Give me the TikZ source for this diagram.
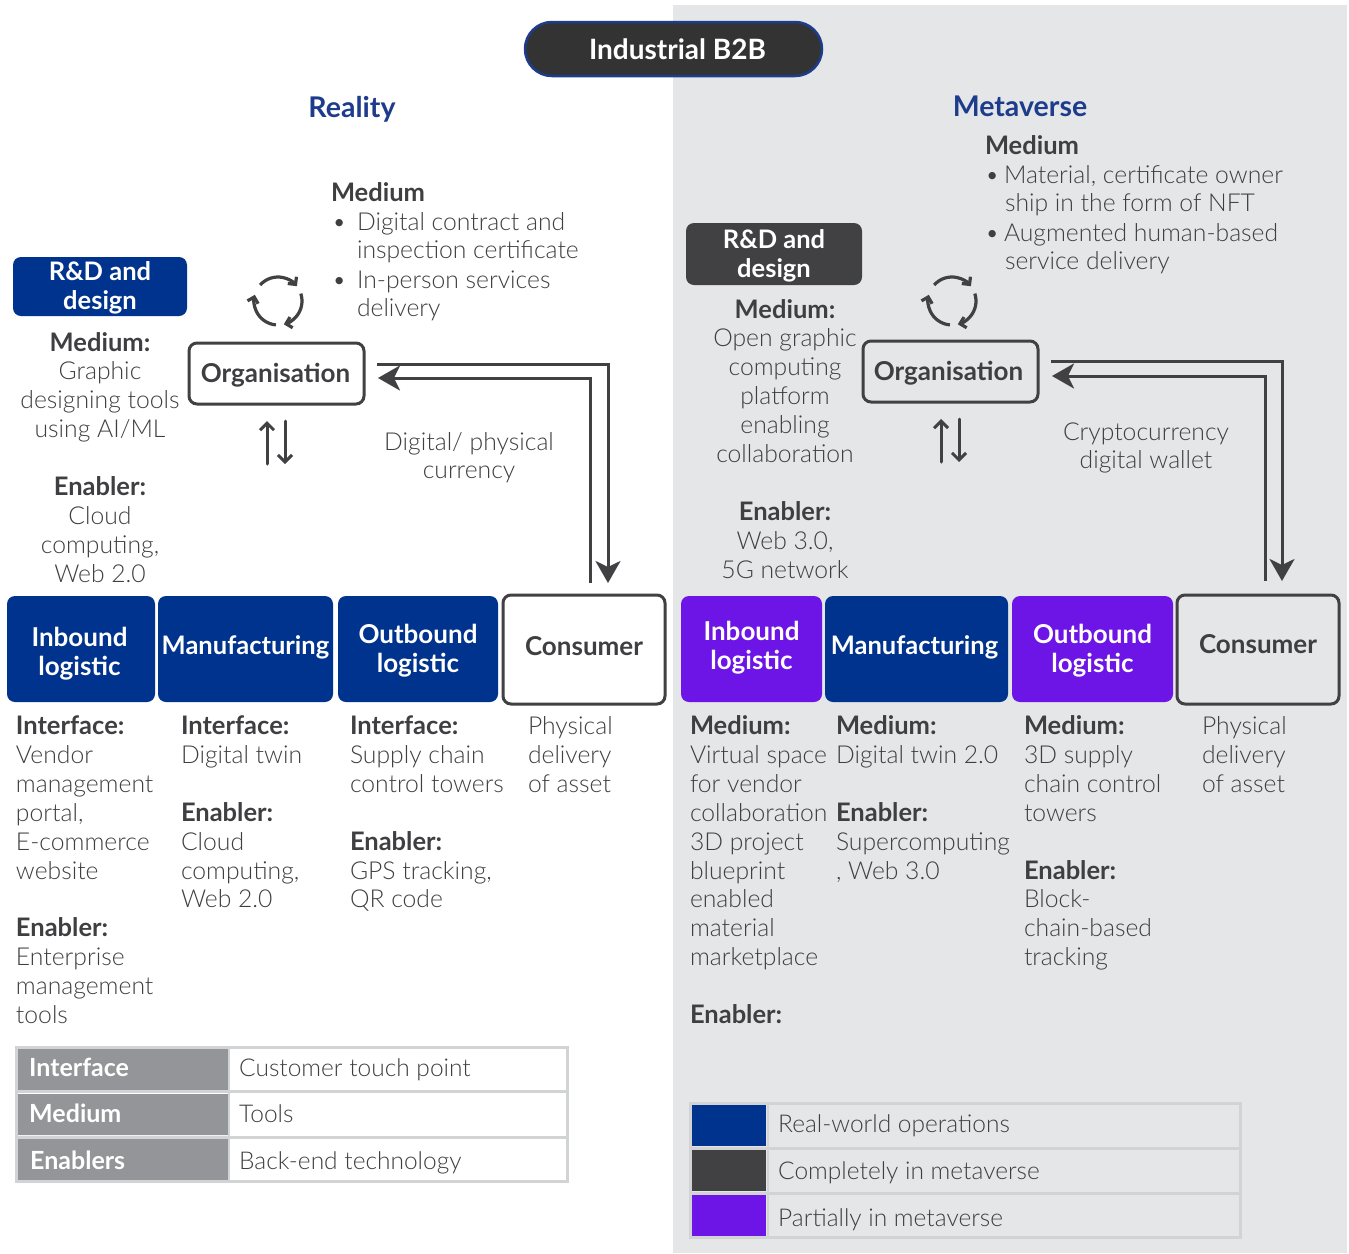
\documentclass[tikz,border=0pt]{standalone}
\usepackage{fontspec}
\setmainfont[BoldFont={Lato Bold}]{Lato Light}
\usetikzlibrary{arrows.meta,calc}
\definecolor{navy}{HTML}{00338D}
\definecolor{dark}{HTML}{414042}
\definecolor{pill}{HTML}{333333}
\definecolor{purp}{HTML}{6D14E6}
\definecolor{ink}{HTML}{3F3F42}
\definecolor{hb}{HTML}{1E3C8C}
\definecolor{bgg}{HTML}{E5E6E8}
\definecolor{tg}{HTML}{939598}
\definecolor{tl}{HTML}{D1D3D4}
\newcommand\hb[1]{{\fontsize{25.5}{28.9}\selectfont\bfseries #1}}
\tikzset{
 x=1pt,y=-1pt,
 tx/.style={inner sep=0pt,outer sep=0pt,text=ink,align=left,font=\fontsize{24.7}{28.9}\selectfont},
 tc/.style={tx,align=center},
 bx/.style={rounded corners=8pt,inner sep=0pt,outer sep=0pt},
 bl/.style={inner sep=0pt,outer sep=0pt,align=center,text=white,font=\fontsize{26}{29}\selectfont\bfseries},
 bm/.style={bl,font=\fontsize{25.5}{29}\selectfont\bfseries},
 bld/.style={bl,text=ink},
 outl/.style={bx,draw=dark,line width=3pt},
 bigarrow/.style={draw=dark,line width=3pt,-{Stealth[length=22pt,width=25pt,inset=6pt]}},
 thinarr/.style={draw=dark,line width=3pt,line cap=round,-{Straight Barb[length=7pt,width=14pt]}},
 cyc/.style={draw=dark,line width=3.2pt,-{Straight Barb[length=5.5pt,width=11pt]}},
 hd/.style={text=hb,inner sep=0pt,font=\fontsize{28.5}{32}\selectfont\bfseries},
 rowt/.style={inner sep=0pt,text=white,anchor=base west,font=\fontsize{25}{29}\selectfont\bfseries},
 rowl/.style={inner sep=0pt,text=ink,anchor=base west,font=\fontsize{24.5}{29}\selectfont}
}
\newcommand\tbl[4]{\node[tx,anchor=north west] (#1) at (#2,#3-20) {\rule{0pt}{20pt}#4};}
\newcommand\tbc[4]{\node[tc,anchor=north] (#1) at (#2,#3-20) {\rule{0pt}{20pt}#4};}
% name, x0,y0,x1,y1, box style, label style, offset, text
\newcommand\bxn[9]{\node[#6,minimum width=#4-#2,minimum height=#5-#3,anchor=north west] (#1) at (#2,#3) {};
 \node[#7] (#1-t) at ($(#1.center)+(#8)$) {#9};}
\newcommand\cyclearrows[3]{%
 \coordinate (#1) at (#2,#3);
 \draw[cyc] ($(#1)+(-138:24)$) arc[start angle=-138,end angle=-38,radius=24];
 \draw[cyc] ($(#1)+(-18:24)$) arc[start angle=-18,end angle=76,radius=24];
 \draw[cyc] ($(#1)+(95:24)$) arc[start angle=95,end angle=195,radius=24];
}
\begin{document}
\begin{tikzpicture}
\useasboundingbox (0,0) rectangle (1349,1253);
\fill[white] (0,0) rectangle (1349,1253);
\fill[bgg] (673,5) rectangle (1347,1253);
% title
\node[draw=hb,fill=pill,line width=2.5pt,rounded corners=27pt,minimum width=297pt,minimum height=54pt,inner sep=0pt,text=white,font=\fontsize{28}{30}\selectfont\bfseries] (title) at (673.5,49) {\hspace*{8pt}Industrial B2B};
\node[hd] (reality) at (352,109) {Reality};
\node[hd] (meta) at (1020,106) {Metaverse};
% left top
\tbl{lmed}{331}{201}{\hb{Medium}}
\tbl{lb1}{332}{230}{•}
\tbl{lm1}{357}{230}{Digital contract and\\inspection certificate}
\tbl{lb2}{332}{288}{•}
\tbl{lm2}{357}{288}{In-person services\\delivery}
\bxn{lrd}{13}{257}{187}{316}{bx,fill=navy}{bm}{0,1.5}{R\&D and\\design}
\tbc{lrdt}{100}{351}{\hb{Medium:}\\Graphic\\designing tools\\using AI/ML\\[28.9pt]\hb{Enabler:}\\Cloud\\computing,\\Web 2.0}
\bxn{lorg}{189}{343}{364}{404}{outl}{bld}{-1,2}{Organisation}
\cyclearrows{lcyc}{278}{301}
\coordinate (lua) at (267,464); \coordinate (luae) at (267,421);
\coordinate (lda) at (285,421); \coordinate (ldae) at (285,464);
\draw[thinarr] (lua) -- (luae);
\draw[thinarr] (lda) -- (ldae);
\tbc{lcur}{469}{450}{Digital/ physical\\currency}
% right top
\tbl{rmed}{985}{154}{\hb{Medium}}
\tbl{rb1}{985}{183}{•}
\tbl{rm1}{1004}{183}{Material, certificate owner\\\hspace*{1pt}ship in the form of NFT}
\tbl{rb2}{985}{241}{•}
\tbl{rm2}{1004}{241}{Augmented human-based\\\hspace*{1pt}service delivery}
\bxn{rrd}{686}{223}{862}{285}{bx,fill=dark}{bm}{0,1.5}{R\&D and\\design}
\tbc{rrdt}{785}{318}{\hb{Medium:}\\Open graphic\\computing\\platform\\enabling\\collaboration\\[28.9pt]\hb{Enabler:}\\Web 3.0,\\5G network}
\bxn{rorg}{863}{341}{1038}{402}{outl}{bld}{-2,2}{Organisation}
\cyclearrows{rcyc}{952}{301}
\coordinate (rua) at (941,462); \coordinate (ruae) at (941,419);
\coordinate (rda) at (959,419); \coordinate (rdae) at (959,462);
\draw[thinarr] (rua) -- (ruae);
\draw[thinarr] (rda) -- (rdae);
\tbc{rcur}{1146}{440}{Cryptocurrency\\digital wallet}
% left row
\bxn{linb}{7}{596}{155}{702}{bx,fill=navy}{bl}{-1.5,5}{Inbound\\logistic}
\bxn{lman}{158}{596}{333}{702}{bx,fill=navy}{bm}{0,-2}{Manufacturing}
\bxn{lout}{338}{596}{498}{702}{bx,fill=navy}{bl}{0,2}{Outbound\\logistic}
\bxn{lcon}{503}{595}{665}{704}{outl,fill=white}{bld}{0,-3}{Consumer}
% right row
\bxn{rinb}{681}{596}{822}{702}{bx,fill=purp}{bl}{0,-1}{Inbound\\logistic}
\bxn{rman}{825}{596}{1008}{702}{bx,fill=navy}{bm}{-2,-2}{Manufacturing}
\bxn{rout}{1012}{596}{1173}{702}{bx,fill=purp}{bl}{0,2}{Outbound\\logistic}
\bxn{rcon}{1177}{595}{1339}{704}{outl}{bld}{0,-5}{Consumer}
% connectors
\coordinate (la) at (377,364); \coordinate (lb) at (590,583);
\coordinate (lc) at (608,583); \coordinate (ld) at (378,378);
\draw[bigarrow] (la) -| (lc);
\draw[bigarrow] (lb) |- (ld);
\coordinate (ra) at (1051,361); \coordinate (rb) at (1265,581);
\coordinate (rc) at (1282,581); \coordinate (rd) at (1052,376);
\draw[bigarrow] (ra) -| (rc);
\draw[bigarrow] (rb) |- (rd);
% left columns
\tbl{c1}{16}{734.5}{\hb{Interface:}\\Vendor\\management\\portal,\\E-commerce\\website\\[28.9pt]\hb{Enabler:}\\Enterprise\\management\\tools}
\tbl{c2}{181}{734.5}{\hb{Interface:}\\Digital twin\\[28.9pt]\hb{Enabler:}\\Cloud\\computing,\\Web 2.0}
\tbl{c3}{350}{734.5}{\hb{Interface:}\\Supply chain\\control towers\\[28.9pt]\hb{Enabler:}\\GPS tracking,\\QR code}
\tbl{c4}{528}{734.5}{Physical\\delivery\\of asset}
% right columns
\tbl{d1}{690}{734.5}{\hb{Medium:}\\Virtual space\\for vendor\\collaboration\\3D project\\blueprint\\enabled\\material\\marketplace\\[28.9pt]\hb{Enabler:}}
\tbl{d2}{836}{734.5}{\hb{Medium:}\\Digital twin 2.0\\[28.9pt]\hb{Enabler:}\\Supercomputing\\, Web 3.0}
\tbl{d3}{1024}{734.5}{\hb{Medium:}\\3D supply\\chain control\\towers\\[28.9pt]\hb{Enabler:}\\Block-\\chain-based\\tracking}
\tbl{d4}{1202}{734.5}{Physical\\delivery\\of asset}
% left table
\fill[tg] (18,1049) rectangle (228,1090) (18,1094) rectangle (228,1135) (18,1139) rectangle (228,1180);
\draw[tl,line width=3pt] (16.5,1047.5) rectangle (567.5,1181.5);
\draw[tl,line width=3pt] (16.5,1091.5) -- (567.5,1091.5) (16.5,1137) -- (567.5,1137);
\draw[tl,line width=2pt] (228.5,1047.5) -- (228.5,1181.5);
\node[rowt] (t1) at (29,1076) {Interface};
\node[rowt] (t2) at (29,1122) {Medium};
\node[rowt] (t3) at (30,1169) {Enablers};
\node[rowl] (u1) at (239,1076) {Customer touch point};
\node[rowl] (u2) at (239,1122) {Tools};
\node[rowl] (u3) at (239,1169) {Back-end technology};
% legend
\fill[navy] (692,1105) rectangle (766,1146);
\fill[dark] (692,1150) rectangle (766,1191);
\fill[purp] (692,1195) rectangle (766,1236);
\draw[tl,line width=3pt] (690.5,1103.5) rectangle (1240.5,1237.5);
\draw[tl,line width=3pt] (690.5,1148) -- (1240.5,1148) (690.5,1193) -- (1240.5,1193);
\draw[tl,line width=2pt] (767.5,1103.5) -- (767.5,1237.5);
\node[rowl] (v1) at (778,1132) {Real-world operations};
\node[rowl] (v2) at (778,1179) {Completely in metaverse};
\node[rowl] (v3) at (778,1226) {Partially in metaverse};
\end{tikzpicture}
\end{document}
